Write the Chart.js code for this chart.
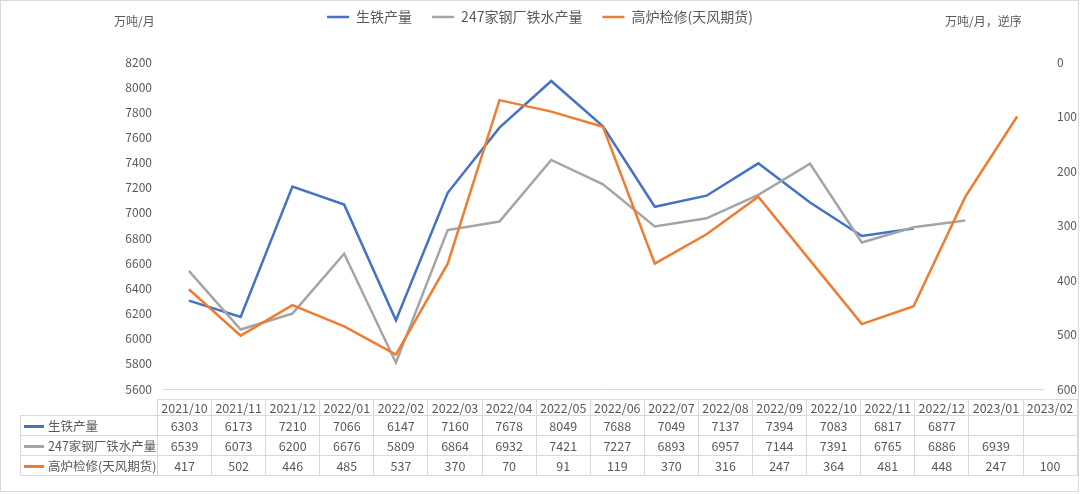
<!DOCTYPE html>
<html>
<head>
<meta charset="utf-8">
<script src="https://cdn.jsdelivr.net/npm/chart.js@4.4.1/dist/chart.umd.min.js"></script>
<style>
  body { margin: 0; background: #fff; font-family: "Noto Sans CJK SC", "Noto Sans", sans-serif; color: #595959; }
  #wrap { position: relative; width: 1080px; height: 494px; overflow: hidden; }
  #frame { position: absolute; left: 0; top: 0; width: 1079px; height: 492px; border: 1px solid #d9d9d9; box-sizing: border-box; pointer-events: none; }
  .unit { position: absolute; top: 13px; font-size: 12px; line-height: 16px; white-space: nowrap; }
  #tbl { position: absolute; left: 20px; top: 399px; border-collapse: collapse; table-layout: fixed; font-size: 12.5px; }
  #tbl td { border: 1px solid #d9d9d9; padding: 0; text-align: center; height: 19px; line-height: 19px; white-space: nowrap; overflow: hidden; }
  #tbl tr.head td { height: 15px; line-height: 15px; }
  #tbl tr.head td.blank { border-top: none; border-left: none; }
  #tbl td.name { text-align: left; padding-left: 3px; }
  #tbl .swatch { display: inline-block; width: 20px; height: 2.5px; vertical-align: middle; margin-right: 4px; position: relative; top: -1px; }
</style>
</head>
<body>
<div id="wrap">
  <canvas id="chart" width="1080" height="494"></canvas>
  <div class="unit" style="left:114px">万吨/月</div>
  <div class="unit" style="left:945px">万吨/月，逆序</div>
  <table id="tbl"></table>
  <div id="frame"></div>
</div>
<script>
const categories = ['2021/10', '2021/11', '2021/12', '2022/01', '2022/02', '2022/03', '2022/04', '2022/05', '2022/06',
  '2022/07', '2022/08', '2022/09', '2022/10', '2022/11', '2022/12', '2023/01', '2023/02'];
const pigIron = [6303, 6173, 7210, 7066, 6147, 7160, 7678, 8049, 7688, 7049, 7137, 7394, 7083, 6817, 6877, null, null];
const mills247 = [6539, 6073, 6200, 6676, 5809, 6864, 6932, 7421, 7227, 6893, 6957, 7144, 7391, 6765, 6886, 6939, null];
const furnaceMaint = [417, 502, 446, 485, 537, 370, 70, 91, 119, 370, 316, 247, 364, 481, 448, 247, 100];

const names = ['生铁产量', '247家钢厂铁水产量', '高炉检修(天风期货)'];
const colors = ['#4472C4', '#A5A5A5', '#ED7D31'];
const seriesList = [pigIron, mills247, furnaceMaint];

Chart.defaults.font.family = '"Noto Sans CJK SC", "Noto Sans", sans-serif';
Chart.defaults.color = '#595959';

// legend gets a fixed height so the plot starts where it does in the picture
const legendHeight = {
  id: 'legendHeight',
  beforeInit(chart) {
    const fit = chart.legend.fit;
    chart.legend.fit = function () {
      fit.call(this);
      this.height = 72;
    };
  }
};

new Chart(document.getElementById('chart'), {
  type: 'line',
  data: {
    labels: categories,
    datasets: seriesList.map((d, i) => ({
      label: names[i],
      data: d,
      borderColor: colors[i],
      backgroundColor: colors[i],
      borderWidth: 2.5,
      pointRadius: 0,
      tension: 0,
      yAxisID: i === 2 ? 'y1' : 'y',
      order: 2 - i
    }))
  },
  options: {
    responsive: false,
    animation: false,
    layout: { padding: { top: -10, bottom: 105, left: 0, right: 0 } },
    plugins: {
      legend: {
        position: 'top',
        labels: {
          usePointStyle: true,
          pointStyle: 'line',
          pointStyleWidth: 22,
          padding: 20,
          font: { size: 14 },
          sort: (a, b) => a.datasetIndex - b.datasetIndex
        }
      },
      tooltip: { enabled: false }
    },
    scales: {
      x: {
        offset: true,
        ticks: { display: false },
        grid: { display: false, drawTicks: false },
        border: { display: true, color: '#d9d9d9', width: 1 },
        afterFit(s) { s.height = 0; }
      },
      y: {
        position: 'left',
        min: 5600,
        max: 8200,
        ticks: { stepSize: 200, padding: 11, font: { size: 12 }, callback: v => String(v) },
        grid: { display: false, drawTicks: false },
        border: { display: false },
        afterFit(s) { s.width = 163; }
      },
      y1: {
        position: 'right',
        min: 0,
        max: 600,
        reverse: true,
        ticks: { stepSize: 100, padding: 14, font: { size: 12 }, callback: v => String(v) },
        grid: { display: false, drawTicks: false },
        border: { display: false },
        afterFit(s) { s.width = 37; }
      }
    }
  },
  plugins: [legendHeight]
});

// data table under the plot
const tbl = document.getElementById('tbl');
let html = '<colgroup><col style="width:137px">' + categories.map(() => '<col style="width:54.1px">').join('') + '</colgroup>';
html += '<tr class="head"><td class="blank"></td>' + categories.map(c => '<td>' + c + '</td>').join('') + '</tr>';
seriesList.forEach((d, i) => {
  html += '<tr><td class="name"><span class="swatch" style="background:' + colors[i] + '"></span>' + names[i] + '</td>' +
    d.map(v => '<td>' + (v === null ? '' : v) + '</td>').join('') + '</tr>';
});
tbl.innerHTML = html;
</script>
</body>
</html>
